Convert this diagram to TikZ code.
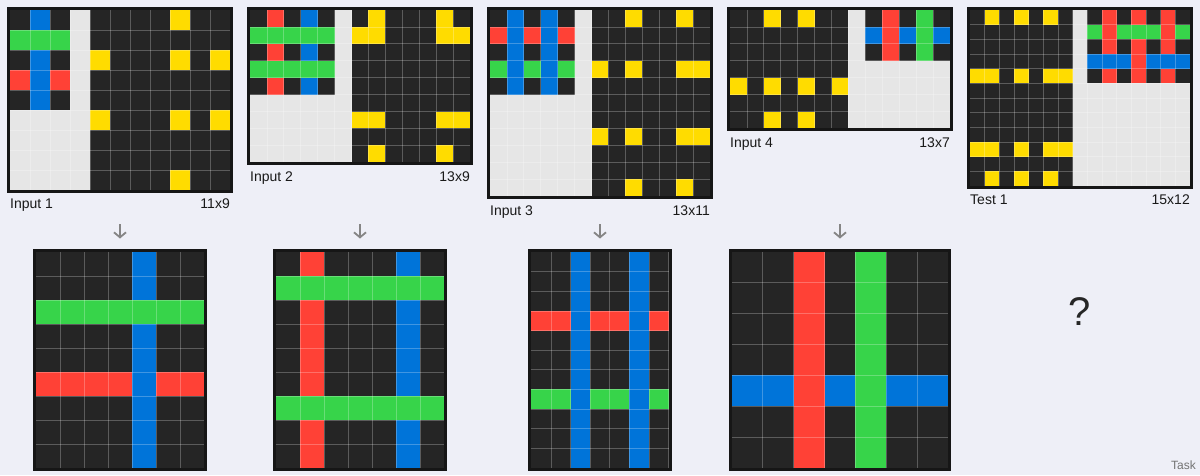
\documentclass[tikz,border=0pt]{standalone}
\usepackage{fontspec}
\setmainfont{Liberation Sans}
\usetikzlibrary{positioning, arrows.meta}

\definecolor{bg}{HTML}{EEEFF7}
\definecolor{rim}{HTML}{161616}
\definecolor{cK}{HTML}{252525}
\definecolor{cB}{HTML}{0074D9}
\definecolor{cR}{HTML}{FF4136}
\definecolor{cG}{HTML}{37D44A}
\definecolor{cY}{HTML}{FFDC00}
\definecolor{cW}{HTML}{E6E6E6}

\tikzset{
  cellline/.style={draw=white, opacity=0.25, line width=0.8pt},
  rimbox/.style={draw=rim, line width=3pt, inner sep=0pt, outer sep=0pt, anchor=north west},
  lbl/.style={font=\fontsize{14}{16}\selectfont, text=black!90, inner sep=0pt},
  flow/.style={draw=black!48, line width=1.8pt, -{Straight Barb[length=5pt,width=12pt]}}
}

% name, x, y, cell, cols, rows, cells
\newcommand{\arcgrid}[7]{%
  \foreach \row [count=\j from 0] in {#7} {
    \foreach \cl [count=\i from 0] in \row
      \fill[c\cl] ({#2+\i*#4},{#3+\j*#4}) rectangle ++(#4,#4);
  }
  \foreach \i in {1,...,#5} \draw[cellline] ({#2+\i*#4},#3) -- ++(0,{#6*#4});
  \foreach \j in {1,...,#6} \draw[cellline] (#2,{#3+\j*#4}) -- ++({#5*#4},0);
  \node[rimbox, minimum width={#5*#4+3}, minimum height={#6*#4+3}] (#1) at ({#2-1.5},{#3-1.5}) {};
}

\begin{document}
\begin{tikzpicture}[x=1pt, y=-1pt]
  \useasboundingbox[fill=bg] (0,0) rectangle (1200,475);

  % inputs
  \arcgrid{in1}{10}{10}{20}{11}{9}{
    {K,B,K,W,K,K,K,K,Y,K,K},{G,G,G,W,K,K,K,K,K,K,K},{K,B,K,W,Y,K,K,K,Y,K,Y},
    {R,B,R,W,K,K,K,K,K,K,K},{K,B,K,W,K,K,K,K,K,K,K},{W,W,W,W,Y,K,K,K,Y,K,Y},
    {W,W,W,W,K,K,K,K,K,K,K},{W,W,W,W,K,K,K,K,K,K,K},{W,W,W,W,K,K,K,K,Y,K,K}}
  \arcgrid{in2}{250}{10}{16.923}{13}{9}{
    {K,R,K,B,K,W,K,Y,K,K,K,Y,K},{G,G,G,G,G,W,Y,Y,K,K,K,Y,Y},{K,R,K,B,K,W,K,K,K,K,K,K,K},
    {G,G,G,G,G,W,K,K,K,K,K,K,K},{K,R,K,B,K,W,K,K,K,K,K,K,K},{W,W,W,W,W,W,K,K,K,K,K,K,K},
    {W,W,W,W,W,W,Y,Y,K,K,K,Y,Y},{W,W,W,W,W,W,K,K,K,K,K,K,K},{W,W,W,W,W,W,K,Y,K,K,K,Y,K}}
  \arcgrid{in3}{490}{10}{16.923}{13}{11}{
    {K,B,K,B,K,W,K,K,Y,K,K,Y,K},{R,B,R,B,R,W,K,K,K,K,K,K,K},{K,B,K,B,K,W,K,K,K,K,K,K,K},
    {G,B,G,B,G,W,Y,K,Y,K,K,Y,Y},{K,B,K,B,K,W,K,K,K,K,K,K,K},{W,W,W,W,W,W,K,K,K,K,K,K,K},
    {W,W,W,W,W,W,K,K,K,K,K,K,K},{W,W,W,W,W,W,Y,K,Y,K,K,Y,Y},{W,W,W,W,W,W,K,K,K,K,K,K,K},
    {W,W,W,W,W,W,K,K,K,K,K,K,K},{W,W,W,W,W,W,K,K,Y,K,K,Y,K}}
  \arcgrid{in4}{730}{10}{16.923}{13}{7}{
    {K,K,Y,K,Y,K,K,W,K,R,K,G,K},{K,K,K,K,K,K,K,W,B,R,B,G,B},{K,K,K,K,K,K,K,W,K,R,K,G,K},
    {K,K,K,K,K,K,K,W,W,W,W,W,W},{Y,K,Y,K,Y,K,Y,W,W,W,W,W,W},{K,K,K,K,K,K,K,W,W,W,W,W,W},
    {K,K,Y,K,Y,K,K,W,W,W,W,W,W}}
  \arcgrid{test1}{970}{10}{14.667}{15}{12}{
    {K,Y,K,Y,K,Y,K,W,K,R,K,R,K,R,K},{K,K,K,K,K,K,K,W,G,R,G,G,G,R,G},
    {K,K,K,K,K,K,K,W,K,R,K,R,K,R,K},{K,K,K,K,K,K,K,W,B,B,B,R,B,B,B},
    {Y,Y,K,Y,K,Y,Y,W,K,R,K,R,K,R,K},{K,K,K,K,K,K,K,W,W,W,W,W,W,W,W},
    {K,K,K,K,K,K,K,W,W,W,W,W,W,W,W},{K,K,K,K,K,K,K,W,W,W,W,W,W,W,W},
    {K,K,K,K,K,K,K,W,W,W,W,W,W,W,W},{Y,Y,K,Y,K,Y,Y,W,W,W,W,W,W,W,W},
    {K,K,K,K,K,K,K,W,W,W,W,W,W,W,W},{K,Y,K,Y,K,Y,K,W,W,W,W,W,W,W,W}}

  % outputs
  \arcgrid{out1}{36}{252}{24}{7}{9}{
    {K,K,K,K,B,K,K},{K,K,K,K,B,K,K},{G,G,G,G,G,G,G},{K,K,K,K,B,K,K},{K,K,K,K,B,K,K},
    {R,R,R,R,B,R,R},{K,K,K,K,B,K,K},{K,K,K,K,B,K,K},{K,K,K,K,B,K,K}}
  \arcgrid{out2}{276}{252}{24}{7}{9}{
    {K,R,K,K,K,B,K},{G,G,G,G,G,G,G},{K,R,K,K,K,B,K},{K,R,K,K,K,B,K},{K,R,K,K,K,B,K},
    {K,R,K,K,K,B,K},{G,G,G,G,G,G,G},{K,R,K,K,K,B,K},{K,R,K,K,K,B,K}}
  \arcgrid{out3}{531.3}{252}{19.636}{7}{11}{
    {K,K,B,K,K,B,K},{K,K,B,K,K,B,K},{K,K,B,K,K,B,K},{R,R,B,R,R,B,R},
    {K,K,B,K,K,B,K},{K,K,B,K,K,B,K},{K,K,B,K,K,B,K},{G,G,B,G,G,B,G},
    {K,K,B,K,K,B,K},{K,K,B,K,K,B,K},{K,K,B,K,K,B,K}}
  \arcgrid{out4}{732}{252}{30.857}{7}{7}{
    {K,K,R,K,G,K,K},{K,K,R,K,G,K,K},{K,K,R,K,G,K,K},{K,K,R,K,G,K,K},
    {B,B,R,B,G,B,B},{K,K,R,K,G,K,K},{K,K,R,K,G,K,K}}

  % labels
  \node[lbl, below right=7.5pt and 1.5pt of in1.south west] (l1) {Input 1};
  \node[lbl, below left=7.5pt and 1.5pt of in1.south east] (s1) {11x9};
  \node[lbl, below right=7.5pt and 1.5pt of in2.south west] (l2) {Input 2};
  \node[lbl, below left=7.5pt and 1.5pt of in2.south east] (s2) {13x9};
  \node[lbl, below right=7.5pt and 1.5pt of in3.south west] (l3) {Input 3};
  \node[lbl, below left=7.5pt and 1.5pt of in3.south east] (s3) {13x11};
  \node[lbl, below right=7.5pt and 1.5pt of in4.south west] (l4) {Input 4};
  \node[lbl, below left=7.5pt and 1.5pt of in4.south east] (s4) {13x7};
  \node[lbl, below right=7.5pt and 1.5pt of test1.south west] (lt) {Test 1};
  \node[lbl, below left=7.5pt and 1.5pt of test1.south east] (st) {15x12};

  % arrows
  \coordinate (a1) at (120,224);
  \coordinate (a2) at (360,224);
  \coordinate (a3) at (600,224);
  \coordinate (a4) at (840,224);
  \draw[flow, shorten >=12pt] (a1) -- (out1);
  \draw[flow, shorten >=12pt] (a2) -- (out2);
  \draw[flow, shorten >=12pt] (a3) -- (out3);
  \draw[flow, shorten >=12pt] (a4) -- (out4);

  \node[font=\fontsize{40}{44}\selectfont, text=black!85] (q) at (1080,312) {?};
  \node[font=\fontsize{12}{14}\selectfont, text=black!55, inner sep=0pt, anchor=base east] (task) at (1196,469) {Task};
\end{tikzpicture}
\end{document}
